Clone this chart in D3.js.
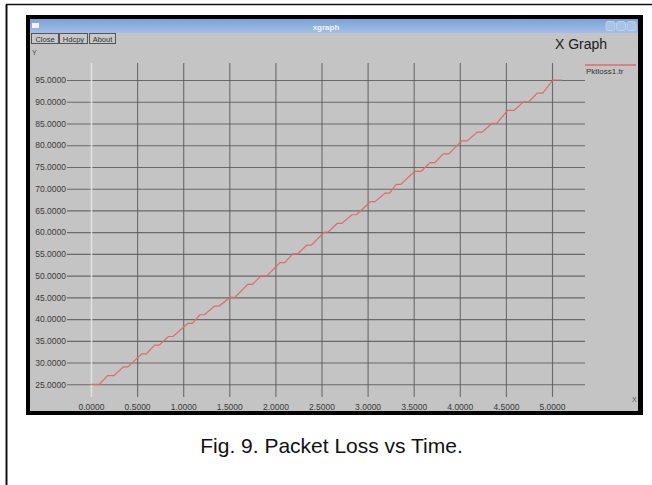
<!DOCTYPE html>
<html>
<head>
<meta charset="utf-8">
<script src="https://cdn.jsdelivr.net/npm/d3@7"></script>
<style>
  html, body { margin: 0; padding: 0; background: #fff; }
  svg { display: block; font-family: "Liberation Sans", Arial, sans-serif; }
</style>
</head>
<body>
<svg id="chart" width="652" height="485"></svg>
<script>
// ---- data ----
const times  = [0.00, 0.09, 0.18, 0.25, 0.35, 0.40, 0.55, 0.60, 0.69, 0.74, 0.84, 0.89,
                1.05, 1.10, 1.18, 1.23, 1.34, 1.39, 1.51, 1.56, 1.70, 1.75, 1.85, 1.91,
                2.05, 2.10, 2.19, 2.24, 2.34, 2.39, 2.53, 2.57, 2.67, 2.72, 2.83, 2.88,
                3.03, 3.08, 3.19, 3.24, 3.31, 3.36, 3.51, 3.58, 3.68, 3.73, 3.82, 3.88,
                4.02, 4.08, 4.19, 4.24, 4.35, 4.40, 4.52, 4.59, 4.69, 4.75, 4.84, 4.90,
                5.01, 5.11];
const losses = [25, 25, 27, 27, 29, 29, 32, 32, 34, 34, 36, 36,
                39, 39, 41, 41, 43, 43, 45, 45, 48, 48, 50, 50,
                53, 53, 55, 55, 57, 57, 60, 60, 62, 62, 64, 64,
                67, 67, 69, 69, 71, 71, 74, 74, 76, 76, 78, 78,
                81, 81, 83, 83, 85, 85, 88, 88, 90, 90, 92, 92,
                95, 95];
const xTicks = [0, 0.5, 1.0, 1.5, 2.0, 2.5, 3.0, 3.5, 4.0, 4.5, 5.0];
const yTicks = [25, 30, 35, 40, 45, 50, 55, 60, 65, 70, 75, 80, 85, 90, 95];
const seriesName = "Pktloss1.tr";
const buttons = ["Close", "Hdcpy", "About"];
const caption = "Fig. 9. Packet Loss vs Time.";

const svg = d3.select("#chart");

// outer figure frame (left + top)
svg.append("line").attr("x1", 6.5).attr("y1", 4.5).attr("x2", 6.5).attr("y2", 485)
  .attr("stroke", "#111").attr("stroke-width", 2);
svg.append("line").attr("x1", 6).attr("y1", 4.5).attr("x2", 652).attr("y2", 4.5)
  .attr("stroke", "#111").attr("stroke-width", 1.5);

// screenshot black border + gray window
svg.append("rect").attr("x", 26).attr("y", 15).attr("width", 617).attr("height", 400).attr("fill", "#000");
svg.append("rect").attr("x", 30).attr("y", 19).attr("width", 608).attr("height", 392).attr("fill", "#c4c4c4");

// title bar
const defs = svg.append("defs");
const grad = defs.append("linearGradient").attr("id", "tb").attr("x1", 0).attr("y1", 0).attr("x2", 0).attr("y2", 1);
grad.append("stop").attr("offset", "0%").attr("stop-color", "#7aa2d8");
grad.append("stop").attr("offset", "100%").attr("stop-color", "#a2bfe6");
svg.append("rect").attr("x", 30).attr("y", 19).attr("width", 608).attr("height", 14).attr("fill", "url(#tb)");
svg.append("rect").attr("x", 32).attr("y", 23).attr("width", 7).attr("height", 5).attr("fill", "#f4f6fa");
svg.append("text").attr("x", 326).attr("y", 29.5).attr("text-anchor", "middle")
  .attr("font-size", 8).attr("fill", "#f4f6fb").attr("font-weight", "bold").text("xgraph");
[606, 616.5, 627].forEach(bx => {
  svg.append("rect").attr("x", bx).attr("y", 21.5).attr("width", 9).attr("height", 9).attr("rx", 2)
    .attr("fill", "#a9c3e6").attr("stroke", "#c8d8ee").attr("stroke-width", 0.8);
});

// buttons
const bx0 = [31, 59, 89], bw = [27, 28, 26];
buttons.forEach((b, i) => {
  svg.append("rect").attr("x", bx0[i] + 0.5).attr("y", 33.5).attr("width", bw[i]).attr("height", 10)
    .attr("fill", "#c8c8c8").attr("stroke", "#555").attr("stroke-width", 1);
  svg.append("text").attr("x", bx0[i] + 0.5 + bw[i] / 2).attr("y", 41.5).attr("text-anchor", "middle")
    .attr("font-size", 7.5).attr("fill", "#333").text(b);
});

svg.append("text").attr("x", 32).attr("y", 55).attr("font-size", 7).attr("fill", "#444").text("Y");
svg.append("text").attr("x", 555).attr("y", 48.5).attr("font-size", 14).attr("fill", "#1c1c1c").text("X Graph");
svg.append("text").attr("x", 632).attr("y", 402).attr("font-size", 7).attr("fill", "#555").text("X");

// scales
const x = d3.scaleLinear().domain([0, 5]).range([91, 552]);
const y = d3.scaleLinear().domain([25, 95]).range([384.3, 80]);
const gridLeft = 67, gridRight = 585, gridTop = 63, gridBottom = 397;
const fmt = d3.format(".4f");

// y axis with horizontal grid
const gy = svg.append("g").attr("transform", `translate(${gridLeft},0)`)
  .call(d3.axisLeft(y).tickValues(yTicks).tickFormat(fmt)
    .tickSize(-(gridRight - gridLeft)).tickPadding(1));
gy.select(".domain").remove();
gy.selectAll(".tick line").attr("stroke", "#5a5a5a").attr("stroke-width", 1.1).attr("opacity", 0.85);
gy.selectAll(".tick text").attr("font-size", 8.5).attr("fill", "#3a3a3a")
  .attr("font-family", "'Liberation Sans', Arial, sans-serif");

// x axis with vertical grid
const gx = svg.append("g").attr("transform", `translate(0,${gridBottom})`)
  .call(d3.axisBottom(x).tickValues(xTicks).tickFormat(fmt)
    .tickSize(-(gridBottom - gridTop)).tickPadding(6.5));
gx.select(".domain").remove();
gx.selectAll(".tick line").attr("stroke", d => d === 0 ? "#e6e6e6" : "#5a5a5a")
  .attr("stroke-width", d => d === 0 ? 1.6 : 1.1).attr("opacity", 0.85);
gx.selectAll(".tick text").attr("font-size", 8.5).attr("fill", "#3a3a3a")
  .attr("font-family", "'Liberation Sans', Arial, sans-serif");

// data line
const pts = times.map((t, i) => [t, losses[i]]);
svg.append("path").datum(pts)
  .attr("fill", "none").attr("stroke", "#e06a6a").attr("stroke-width", 1.2)
  .attr("d", d3.line().x(d => x(d[0])).y(d => y(d[1])));

// legend
svg.append("line").attr("x1", 585).attr("x2", 636).attr("y1", 65).attr("y2", 65)
  .attr("stroke", "#e06a6a").attr("stroke-width", 1.4);
svg.append("text").attr("x", 586).attr("y", 74).attr("font-size", 8).attr("fill", "#333").text(seriesName);

// caption
svg.append("text").attr("x", 331.5).attr("y", 453).attr("text-anchor", "middle")
  .attr("font-size", 21).attr("fill", "#111").text(caption);
</script>
</body>
</html>
